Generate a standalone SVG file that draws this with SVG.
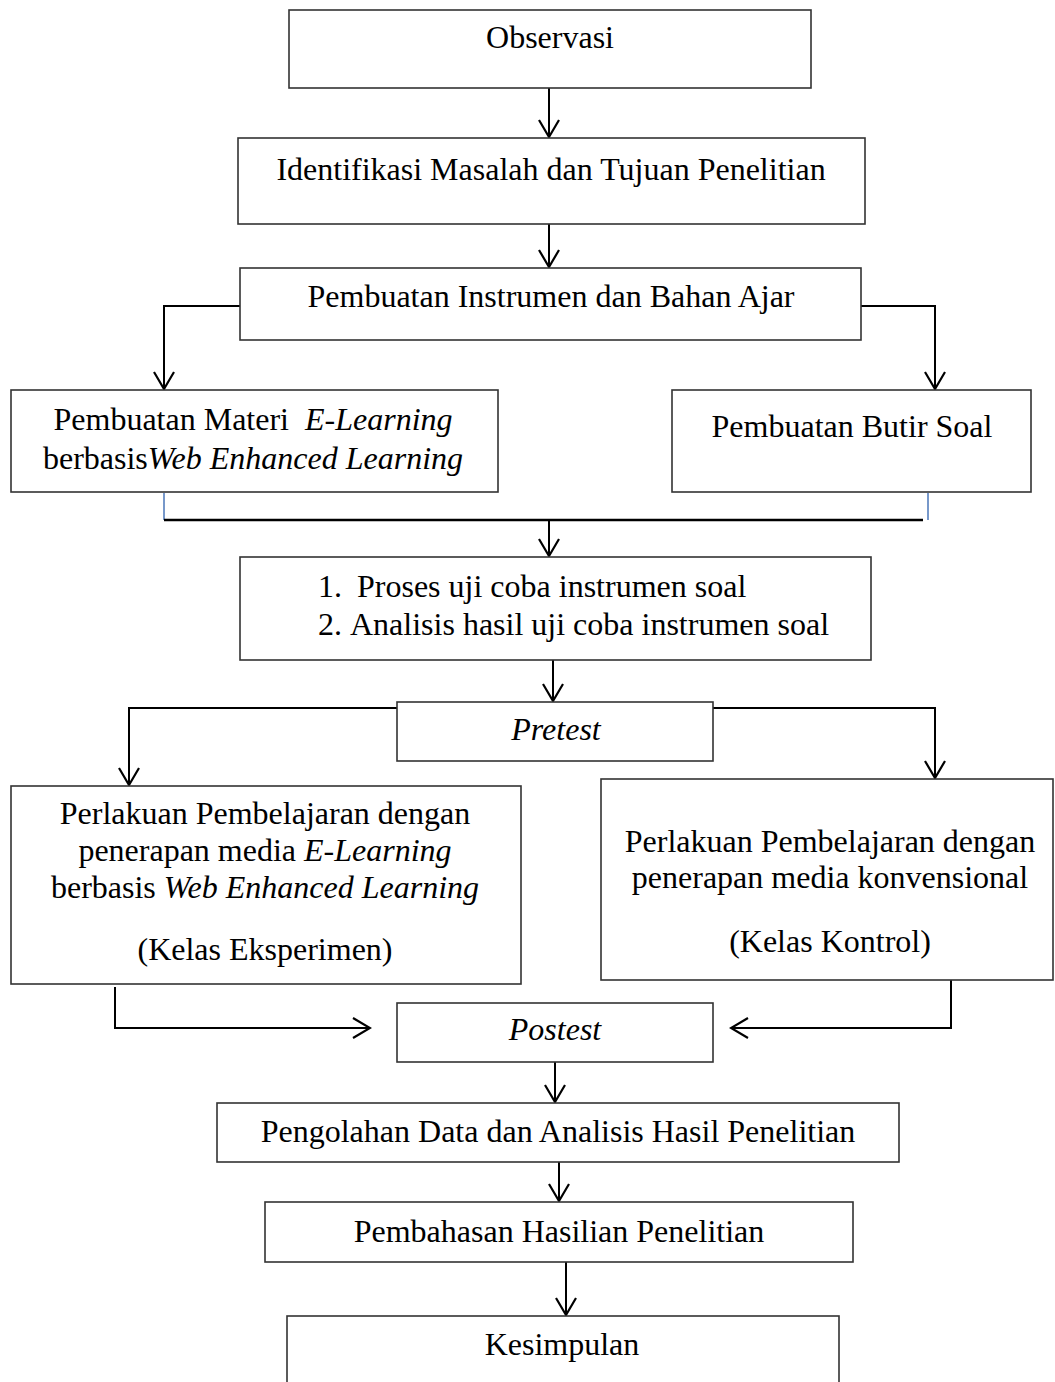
<svg xmlns="http://www.w3.org/2000/svg" width="1055" height="1382" viewBox="0 0 1055 1382">
<style>
.box{fill:#fff;stroke:#333;stroke-width:1.6}
.t{font-family:"Liberation Serif","Times New Roman",serif;font-size:32px;fill:#000;text-anchor:middle}
.ts{font-family:"Liberation Serif","Times New Roman",serif;font-size:32px;fill:#000}
.i{font-style:italic}
.c{fill:none;stroke:#000;stroke-width:2}
.blue{fill:none;stroke:#4a76b8;stroke-width:1.5}
</style>
<defs>
<marker id="ah" viewBox="0 0 20 22" markerWidth="20" markerHeight="22" refX="18" refY="11" orient="auto" markerUnits="userSpaceOnUse">
<path d="M1,1 L18,11 L1,21" fill="none" stroke="#000" stroke-width="2.2"/>
</marker>
</defs>
<rect width="1055" height="1382" fill="#fff"/>
<g id="connectors">
<path class="c" d="M549,88 V137" marker-end="url(#ah)"/>
<path class="c" d="M549,224 V267" marker-end="url(#ah)"/>
<path class="c" d="M240,306 H164 V389" marker-end="url(#ah)"/>
<path class="c" d="M861,306 H935 V389" marker-end="url(#ah)"/>
<path class="blue" d="M164,493 V520"/>
<path class="blue" d="M928,493 V520"/>
<path class="c" d="M164,520 H923" style="stroke-width:2.5"/>
<path class="c" d="M549,520 V556" marker-end="url(#ah)"/>
<path class="c" d="M553,660 V701" marker-end="url(#ah)"/>
<path class="c" d="M397,708 H129 V785" marker-end="url(#ah)"/>
<path class="c" d="M713,708 H935 V778" marker-end="url(#ah)"/>
<path class="c" d="M115,987 V1028 H370" marker-end="url(#ah)"/>
<path class="c" d="M951,980 V1028 H731" marker-end="url(#ah)"/>
<path class="c" d="M555,1062 V1102" marker-end="url(#ah)"/>
<path class="c" d="M559,1148 V1201" marker-end="url(#ah)"/>
<path class="c" d="M566,1262 V1315" marker-end="url(#ah)"/>
</g>
<g id="observasi">
<rect class="box" x="289" y="10" width="522" height="78"/>
<text class="t" x="550" y="48">Observasi</text>
</g>
<g id="identifikasi">
<rect class="box" x="238" y="138" width="627" height="86"/>
<text class="t" x="551" y="180">Identifikasi Masalah dan Tujuan Penelitian</text>
</g>
<g id="instrumen">
<rect class="box" x="240" y="268" width="621" height="72"/>
<text class="t" x="551" y="307">Pembuatan Instrumen dan Bahan Ajar</text>
</g>
<g id="materi">
<rect class="box" x="11" y="390" width="487" height="102"/>
<text class="t" x="253" y="430" xml:space="preserve">Pembuatan Materi  <tspan class="i">E-Learning</tspan></text>
<text class="t" x="253" y="469">berbasis<tspan class="i">Web Enhanced Learning</tspan></text>
</g>
<g id="butir">
<rect class="box" x="672" y="390" width="359" height="102"/>
<text class="t" x="852" y="437">Pembuatan Butir Soal</text>
</g>
<g id="ujicoba">
<rect class="box" x="240" y="557" width="631" height="103"/>
<text class="ts" y="597"><tspan x="318">1.</tspan><tspan x="357">Proses uji coba instrumen soal</tspan></text>
<text class="ts" y="635"><tspan x="318">2.</tspan><tspan x="350">Analisis hasil uji coba instrumen soal</tspan></text>
</g>
<g id="pretest">
<rect class="box" x="397" y="702" width="316" height="59"/>
<text class="t i" x="556" y="740">Pretest</text>
</g>
<g id="eksperimen">
<rect class="box" x="11" y="786" width="510" height="198"/>
<text class="t" x="265" y="824">Perlakuan Pembelajaran dengan</text>
<text class="t" x="265" y="861">penerapan media <tspan class="i">E-Learning</tspan></text>
<text class="t" x="265" y="898">berbasis <tspan class="i">Web Enhanced Learning</tspan></text>
<text class="t" x="265" y="960">(Kelas Eksperimen)</text>
</g>
<g id="kontrol">
<rect class="box" x="601" y="779" width="452" height="201"/>
<text class="t" x="830" y="852">Perlakuan Pembelajaran dengan</text>
<text class="t" x="830" y="888">penerapan media konvensional</text>
<text class="t" x="830" y="952">(Kelas Kontrol)</text>
</g>
<g id="postest">
<rect class="box" x="397" y="1003" width="316" height="59"/>
<text class="t i" x="555" y="1040">Postest</text>
</g>
<g id="pengolahan">
<rect class="box" x="217" y="1103" width="682" height="59"/>
<text class="t" x="558" y="1142">Pengolahan Data dan Analisis Hasil Penelitian</text>
</g>
<g id="pembahasan">
<rect class="box" x="265" y="1202" width="588" height="60"/>
<text class="t" x="559" y="1242">Pembahasan Hasilian Penelitian</text>
</g>
<g id="kesimpulan">
<rect class="box" x="287" y="1316" width="552" height="90"/>
<text class="t" x="562" y="1355">Kesimpulan</text>
</g>
</svg>
